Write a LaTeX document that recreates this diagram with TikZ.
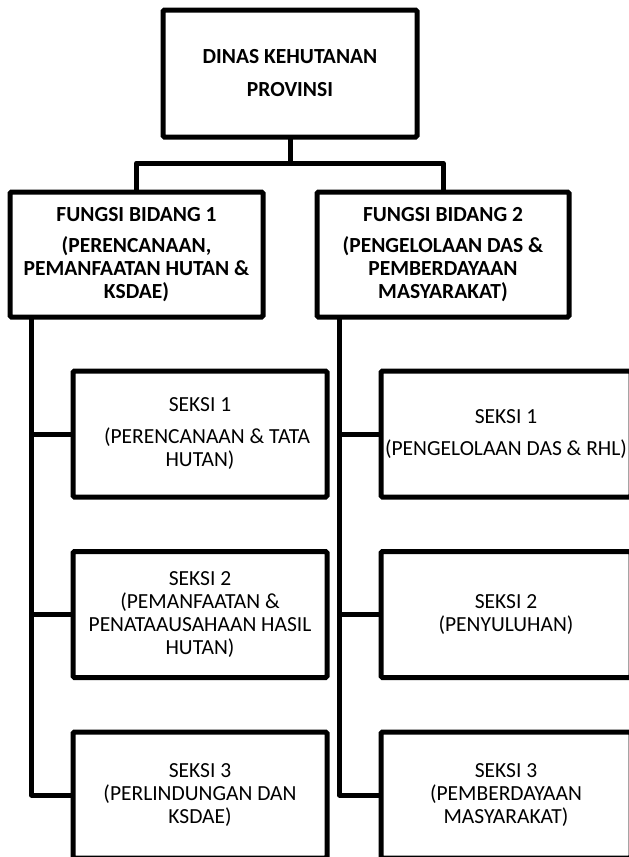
\documentclass[tikz,border=0pt]{standalone}
\usepackage{fontspec}
\setmainfont{Carlito}
\begin{document}
\begin{tikzpicture}[x=1pt,y=-1pt,
  box/.style={draw=black, line width=5pt, rounded corners=1.5pt, fill=white,
    align=center, inner sep=0pt, font=\fontsize{21.5}{23}\selectfont},
  headbox/.style={box, font=\fontsize{21.5}{23}\selectfont\bfseries},
  sectbox/.style={box, minimum width=254pt, minimum height=126pt},
  link/.style={line width=5pt, line join=round, line cap=rect}]
\useasboundingbox (0,0) rectangle (629,857);
\clip (0,0) rectangle (629,857);

% head office
\node[headbox, minimum width=254pt, minimum height=127pt] (top) at (290,73.5)
  {DINAS KEHUTANAN\\[10pt]PROVINSI};

% the two divisions
\node[headbox, minimum width=253pt, minimum height=125pt] (b1) at (136.5,254.5)
  {FUNGSI BIDANG 1\\[8pt](PERENCANAAN,\\PEMANFAATAN HUTAN \&\\KSDAE)};
\node[headbox, minimum width=252pt, minimum height=125pt] (b2) at (443,254.5)
  {FUNGSI BIDANG 2\\[8pt](PENGELOLAAN DAS \&\\PEMBERDAYAAN\\MASYARAKAT)};

% sections under division 1
\node[sectbox] (s11) at (200,434)
  {SEKSI 1\\[9pt]\hspace*{14pt}(PERENCANAAN \& TATA\\HUTAN)};
\node[sectbox] (s12) at (200,614.5)
  {SEKSI 2\\(PEMANFAATAN \&\\PENATAAUSAHAAN HASIL\\HUTAN)};
\node[sectbox] (s13) at (200,795)
  {SEKSI 3\\(PERLINDUNGAN DAN\\KSDAE)};

% sections under division 2
\node[sectbox, minimum width=250pt] (s21) at (506,434)
  {SEKSI 1\\[9pt](PENGELOLAAN DAS \& RHL)};
\node[sectbox, minimum width=250pt] (s22) at (506,614.5)
  {SEKSI 2\\(PENYULUHAN)};
\node[sectbox, minimum width=250pt] (s23) at (506,795)
  {SEKSI 3\\(PEMBERDAYAAN\\MASYARAKAT)};

% head office to divisions
\coordinate (hub) at (290,163);
\draw[link] (top.south) -- (hub);
\draw[link] (b1.north) |- (hub) -| (b2.north);

% division spines to their sections
\draw[link] ([xshift=24pt]b1.south west) coordinate (L) |- (s13.west);
\draw[link] (L |- s11.west) -- (s11.west);
\draw[link] (L |- s12.west) -- (s12.west);

\draw[link] ([xshift=25pt]b2.south west) coordinate (R) |- (s23.west);
\draw[link] (R |- s21.west) -- (s21.west);
\draw[link] (R |- s22.west) -- (s22.west);
\end{tikzpicture}
\end{document}
